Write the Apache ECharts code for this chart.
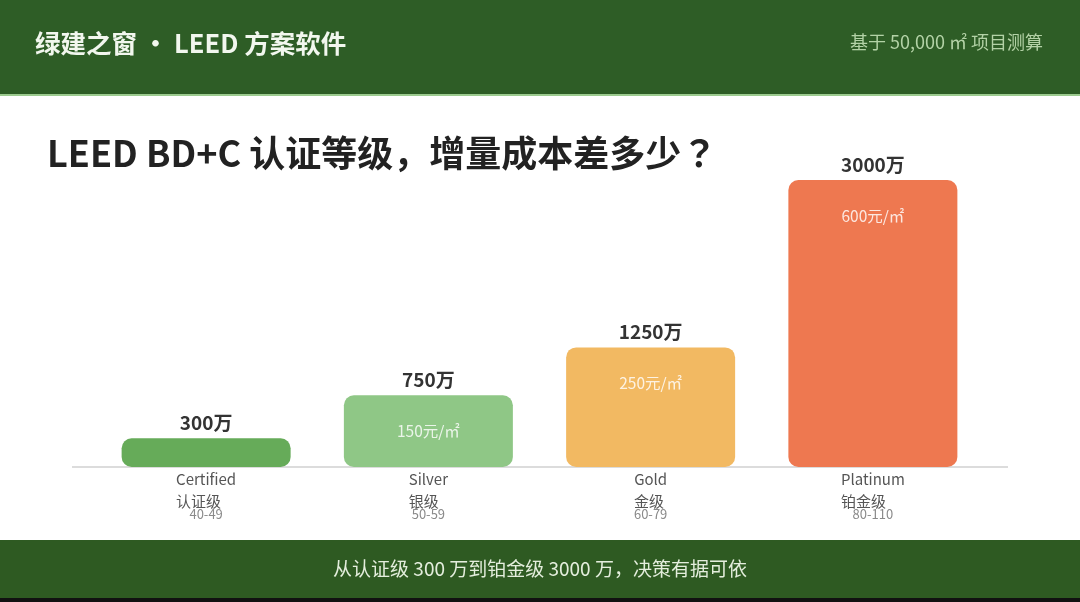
<!DOCTYPE html>
<html>
<head>
<meta charset="utf-8">
<script src="https://cdn.jsdelivr.net/npm/echarts@6/dist/echarts.min.js"></script>
<style>
  html, body { margin: 0; padding: 0; background: #fff; }
  #main { width: 1080px; height: 602px; }
</style>
</head>
<body>
<div id="main"></div>
<script>
// 数据
var levelsEn = ['Certified', 'Silver', 'Gold', 'Platinum'];
var levelsCn = ['认证级', '银级', '金级', '铂金级'];
var scoreRanges = ['40-49', '50-59', '60-79', '80-110'];
var totalCost = [300, 750, 1250, 3000];          // 万元
var unitCost = ['', '150元/㎡', '250元/㎡', '600元/㎡'];
var barColors = ['#66ab59', '#8fc786', '#f2b962', '#ee7850'];

var FONT = '"Noto Sans CJK SC", "Noto Sans", sans-serif';

var chart = echarts.init(document.getElementById('main'));

var seriesData = totalCost.map(function (v, i) {
  return {
    value: v,
    itemStyle: { color: barColors[i] },
    label: { show: !!unitCost[i] }
  };
});

var option = {
  backgroundColor: '#ffffff',
  animation: false,
  textStyle: { fontFamily: FONT },
  graphic: [
    { type: 'rect', shape: { x: 0, y: 0, width: 1080, height: 94 }, style: { fill: '#2e5d26' }, z: -1 },
    { type: 'rect', shape: { x: 0, y: 94, width: 1080, height: 2 }, style: { fill: '#9ccb8f' }, z: -1 },
    { type: 'rect', shape: { x: 0, y: 540, width: 1080, height: 58 }, style: { fill: '#2e5a22' }, z: -1 },
    { type: 'rect', shape: { x: 0, y: 598, width: 1080, height: 4 }, style: { fill: '#111' }, z: -1 },
    // 基线
    { type: 'rect', shape: { x: 72, y: 466, width: 936, height: 2 }, style: { fill: '#dcdcdc' }, z: 0 },
    { type: 'text', left: 35, top: 31,
      style: { text: '绿建之窗 · LEED 方案软件', fill: '#f2f7ee', font: 'bold 25.5px ' + FONT } },
    { type: 'text', right: 37, top: 33,
      style: { text: '基于 50,000 ㎡ 项目测算', fill: '#b3d2a6', font: '18px ' + FONT } },
    { type: 'text', left: 47, top: 135,
      style: {
        text: '{a|LEED BD+C 认证等级，增量成本差多少}{b|？}',
        rich: {
          a: { fill: '#222222', fontSize: 36, fontWeight: 'bold', fontFamily: FONT },
          b: { fill: '#222222', fontSize: 36, fontWeight: 'bold', fontFamily: '"Noto Sans CJK TC", sans-serif' }
        }
      } },
    { type: 'text', left: 'center', top: 559,
      style: { text: '从认证级 300 万到铂金级 3000 万，决策有据可依', fill: '#e4eedd', font: '19px ' + FONT } }
  ],
  grid: { left: 95, right: 96, top: 180, bottom: 135 },
  xAxis: {
    type: 'category',
    data: levelsEn,
    axisLine: { show: false },
    axisTick: { show: false },
    axisLabel: {
      margin: 2,
      formatter: function (v, i) {
        return '{en|' + v + '}\n{cn|' + levelsCn[i] + '}\n{sc|' + scoreRanges[i] + '}';
      },
      rich: {
        en: { fontSize: 15, color: '#555', lineHeight: 20, fontFamily: FONT },
        cn: { fontSize: 15, color: '#555', lineHeight: 24, align: 'left', fontFamily: FONT },
        sc: { fontSize: 13, color: '#8a8a8a', lineHeight: 2, align: 'center', fontFamily: FONT }
      }
    }
  },
  yAxis: {
    type: 'value',
    min: 0,
    max: 3000,
    show: false,
    splitLine: { show: false }
  },
  series: [
    {
      type: 'bar',
      data: seriesData,
      barWidth: 169,
      itemStyle: { borderRadius: 10 },
      label: {
        position: 'insideTop',
        distance: 28,
        color: 'rgba(255,255,255,0.82)',
        fontSize: 15.5,
        fontFamily: FONT,
        formatter: function (p) { return unitCost[p.dataIndex]; }
      },
      z: 2
    },
    {
      // 顶部总价标签
      type: 'bar',
      data: totalCost,
      barWidth: 169,
      barGap: '-100%',
      itemStyle: { color: 'transparent' },
      label: {
        show: true,
        position: 'top',
        distance: 6,
        color: '#333',
        fontSize: 19,
        fontWeight: 'bold',
        fontFamily: FONT,
        formatter: '{c}万'
      },
      z: 3,
      silent: true
    }
  ]
};

chart.setOption(option);
</script>
</body>
</html>
